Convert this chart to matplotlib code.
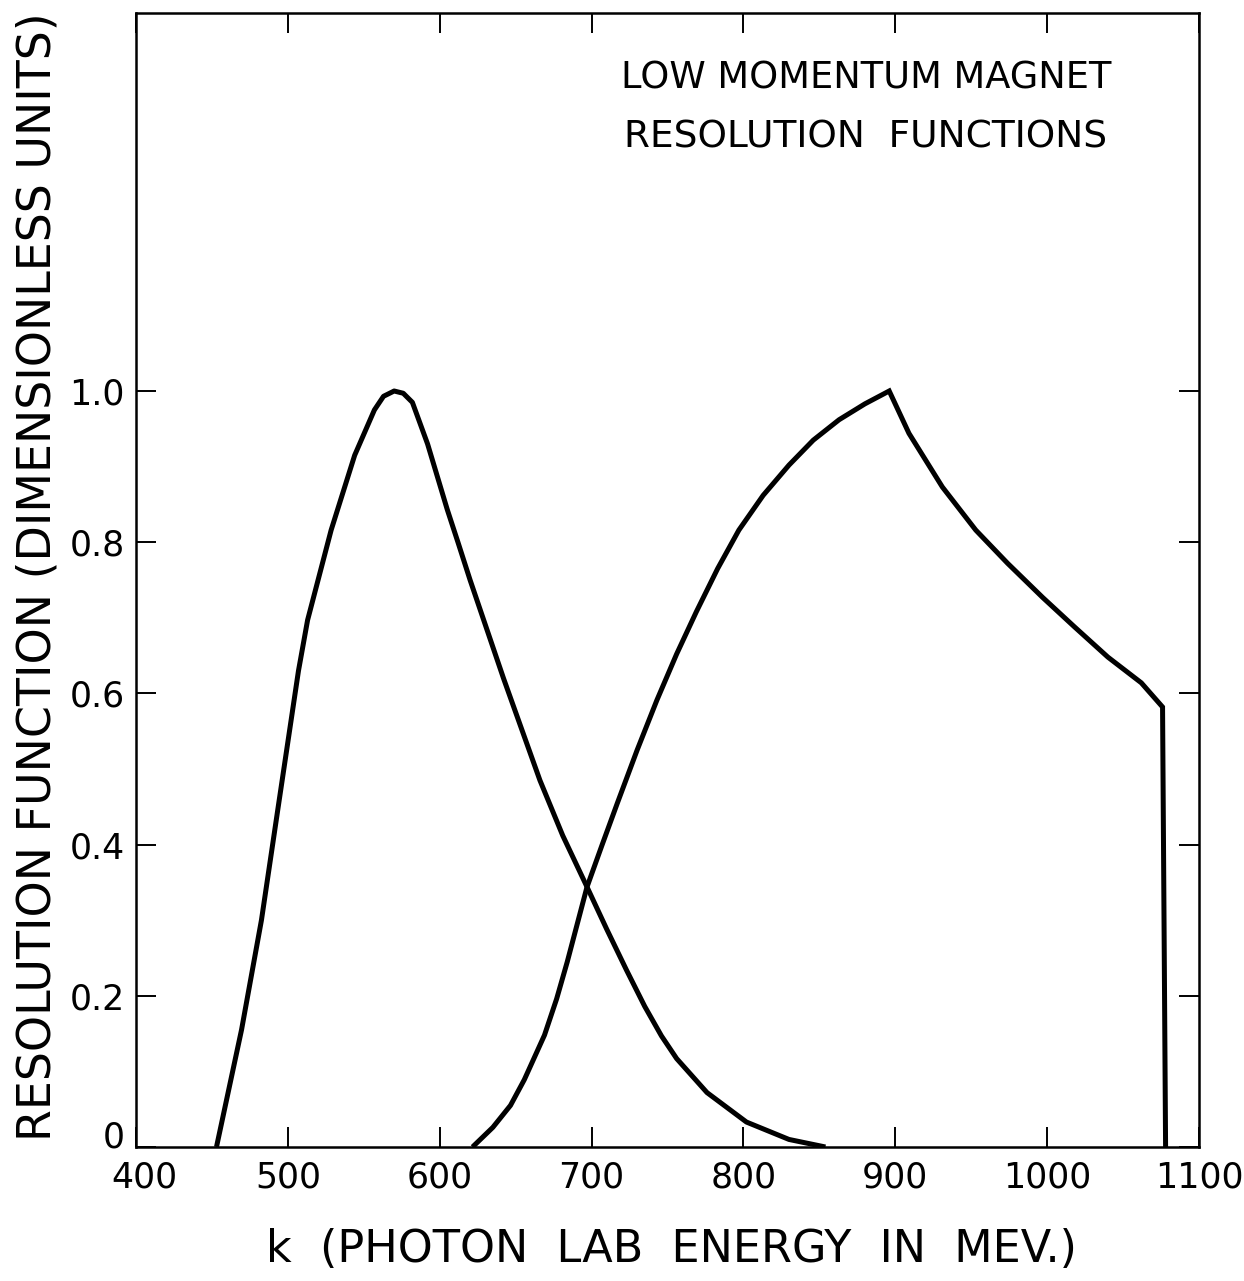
import matplotlib
matplotlib.use("Agg")
import matplotlib.pyplot as plt
from matplotlib.transforms import ScaledTranslation

# ---- data ----
k_low = [453, 469.5, 482.6, 493.8, 507, 513, 528.5, 544, 557, 563, 570, 576, 582, 592, 605,
         612, 620, 642, 666, 681, 697, 710, 723, 735, 746, 756, 776, 802, 830, 854]
r_low = [0.0, 0.155, 0.30, 0.452, 0.63, 0.697, 0.816, 0.915, 0.975, 0.993, 1.0, 0.997, 0.985,
         0.93, 0.843, 0.80, 0.75, 0.62, 0.485, 0.412, 0.344, 0.288, 0.234, 0.186, 0.147,
         0.117, 0.072, 0.033, 0.010, 0.0]

k_high = [621.6, 635, 646.6, 655.7, 669, 677, 684, 697, 707, 717, 730, 743, 756, 769, 783, 797,
          813, 830, 846, 863, 880, 896,
          909, 931, 953, 974, 997, 1018, 1040, 1062, 1076, 1078]
r_high = [0.0, 0.026, 0.055, 0.089, 0.148, 0.196, 0.245, 0.344, 0.40, 0.455, 0.525, 0.591,
          0.652, 0.708, 0.765, 0.816, 0.862, 0.902, 0.935, 0.962, 0.983, 1.0,
          0.944, 0.873, 0.816, 0.772, 0.727, 0.688, 0.648, 0.614, 0.582, 0.0]

x_ticks = [400, 500, 600, 700, 800, 900, 1000, 1100]
x_tick_labels = ["400", "500", "600", "700", "800", "900", "1000", "1100"]
y_ticks = [0, 0.2, 0.4, 0.6, 0.8, 1.0]
y_tick_labels = ["0", "0.2", "0.4", "0.6", "0.8", "1.0"]

title_lines = ["LOW MOMENTUM MAGNET", "RESOLUTION  FUNCTIONS"]
x_label = "k  (PHOTON  LAB  ENERGY  IN  MEV.)"
y_label = "RESOLUTION FUNCTION (DIMENSIONLESS UNITS)"

plt.rcParams["font.family"] = ["DejaVu Sans"]

W, H = 1244, 1281
fig = plt.figure(figsize=(W / 100, H / 100), dpi=100)
ax = fig.add_axes([136 / W, 1 - 1147 / H, 1063 / W, 1134 / H])

ax.plot(k_low, r_low, color="black", lw=3.6, solid_joinstyle="round", solid_capstyle="butt")
ax.plot(k_high, r_high, color="black", lw=3.6, solid_joinstyle="miter", solid_capstyle="butt")

ax.set_xlim(400, 1100)
ax.set_ylim(0, 1.5)
ax.set_xticks(x_ticks)
ax.set_xticklabels(x_tick_labels)
ax.set_yticks(y_ticks)
ax.set_yticklabels(y_tick_labels)
ax.tick_params(direction="in", length=14.4, width=1.4, top=True, right=True,
               labelsize=25, color="black")
ax.tick_params(axis="x", pad=10)
ax.tick_params(axis="y", pad=8)
for s in ax.spines.values():
    s.set_linewidth(1.8)

# raise the "0" label slightly, as in the reference, and nudge "400" right
lab0 = ax.get_yticklabels()[0]
lab0.set_transform(lab0.get_transform() + ScaledTranslation(0, 0.13, fig.dpi_scale_trans))
lab400 = ax.get_xticklabels()[0]
lab400.set_transform(lab400.get_transform() + ScaledTranslation(0.08, 0, fig.dpi_scale_trans))

fig.text(38 / W, 1 - 577 / H, y_label, rotation=90, ha="center", va="center", fontsize=33)
fig.text(671 / W, 1 - 1250 / H, x_label, ha="center", va="center", fontsize=32)
fig.text(866 / W, 1 - 78 / H, title_lines[0], ha="center", va="center", fontsize=26.5)
fig.text(866 / W, 1 - 137 / H, title_lines[1], ha="center", va="center", fontsize=27)

fig.savefig("out.png", dpi=100)
